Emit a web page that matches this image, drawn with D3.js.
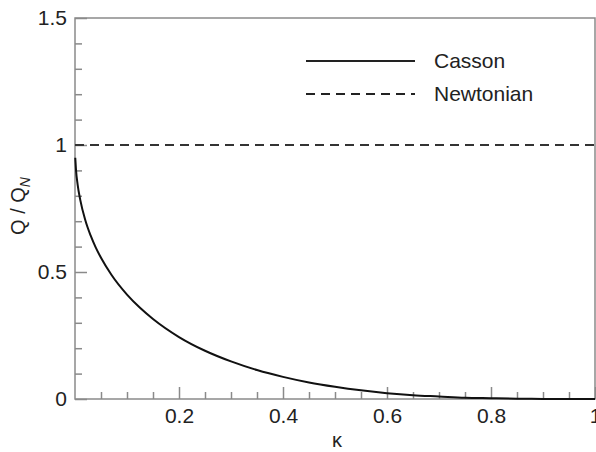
<!DOCTYPE html>
<html>
<head>
<meta charset="utf-8">
<script src="https://cdn.jsdelivr.net/npm/d3@7"></script>
<style>
  body { margin: 0; background: #fff; }
  svg { display: block; font-family: "Liberation Sans", Arial, sans-serif; }
</style>
</head>
<body>
<div id="chart"></div>
<script>
// ── Data ────────────────────────────────────────────────────────────────
const kappa = [0.0005, 0.002, 0.005, 0.01, 0.02, 0.03, 0.04, 0.05, 0.07, 0.1,
  0.125, 0.15, 0.2, 0.25, 0.3, 0.35, 0.4, 0.45, 0.5, 0.55, 0.6, 0.65, 0.7,
  0.75, 0.8, 0.85, 0.9, 0.95, 1.0];
const cassonQ = [0.950, 0.900, 0.845, 0.785, 0.703, 0.644, 0.596, 0.556, 0.489, 0.411,
  0.359, 0.315, 0.244, 0.190, 0.148, 0.114, 0.087, 0.065, 0.048, 0.034, 0.023, 0.015, 0.010,
  0.005, 0.003, 0.001, 0.0004, 0.0001, 0.0];
const newtonianQ = [1, 1];
const newtonianK = [0, 1];

const xTicks = [0.2, 0.4, 0.6, 0.8, 1];
const yTicks = [0, 0.5, 1, 1.5];
const legendItems = [
  { label: "Casson", dash: null },
  { label: "Newtonian", dash: "9,6" }
];

// ── Layout ──────────────────────────────────────────────────────────────
const W = 596, H = 452;
const margin = { top: 18, right: 1, bottom: 53, left: 75 };
const width = W - margin.left - margin.right;
const height = H - margin.top - margin.bottom;
const AXIS_C = "#8a8a8a";
const TEXT_C = "#222";

const svg = d3.select("#chart").append("svg")
  .attr("width", W).attr("height", H);
const g = svg.append("g").attr("transform", `translate(${margin.left},${margin.top})`);

const x = d3.scaleLinear().domain([0, 1]).range([0, width]);
const y = d3.scaleLinear().domain([0, 1.5]).range([height, 0]);

// Frame
g.append("rect")
  .attr("x", 0).attr("y", 0).attr("width", width).attr("height", height)
  .attr("fill", "none").attr("stroke", AXIS_C).attr("stroke-width", 1.5);

// Minor ticks (inward)
const xMinor = d3.range(0.05, 1, 0.05).filter(v => Math.abs(v / 0.2 - Math.round(v / 0.2)) > 1e-6);
const yMinor = d3.range(0.1, 1.5, 0.1).filter(v => Math.abs(v / 0.5 - Math.round(v / 0.5)) > 1e-6);

const xAxisG = g.append("g").attr("transform", `translate(0,${height})`);
xAxisG.call(d3.axisBottom(x).tickValues(xMinor).tickSize(-7).tickFormat(""));
const xMajorG = g.append("g").attr("transform", `translate(0,${height})`);
xMajorG.call(d3.axisBottom(x).tickValues(xTicks).tickSize(-12)
  .tickFormat(d => d3.format("")(d)));

const yAxisG = g.append("g");
yAxisG.call(d3.axisLeft(y).tickValues(yMinor).tickSize(-7).tickFormat(""));
const yMajorG = g.append("g");
yMajorG.call(d3.axisLeft(y).tickValues(yTicks).tickSize(-12)
  .tickFormat(d => d3.format("")(d)));

g.selectAll(".domain").remove();
g.selectAll(".tick line").attr("stroke", AXIS_C).attr("stroke-width", 1.5);
g.selectAll(".tick text").attr("fill", TEXT_C).style("font-size", "21px")
  .style("font-family", "'Liberation Sans', Arial, sans-serif");
yMajorG.selectAll(".tick text").attr("x", -8);
xMajorG.selectAll(".tick text").attr("y", 9);

// Newtonian line
const line = d3.line().x(d => x(d[0])).y(d => y(d[1]));
g.append("path")
  .datum(newtonianK.map((k, i) => [k, newtonianQ[i]]))
  .attr("fill", "none").attr("stroke", "#333").attr("stroke-width", 2)
  .attr("stroke-dasharray", "9,6").attr("d", line);

// Casson curve
const curve = d3.line().x(d => x(d[0])).y(d => y(d[1])).curve(d3.curveMonotoneX);
g.append("path")
  .datum(kappa.map((k, i) => [k, cassonQ[i]]))
  .attr("fill", "none").attr("stroke", "#111").attr("stroke-width", 2)
  .attr("d", curve);

// Legend
const leg = svg.append("g").attr("transform", "translate(306,61)");
legendItems.forEach((item, i) => {
  const row = leg.append("g").attr("transform", `translate(0,${i * 33})`);
  row.append("line").attr("x1", 0).attr("x2", 109).attr("y1", 0).attr("y2", 0)
    .attr("stroke", "#222").attr("stroke-width", 2)
    .attr("stroke-dasharray", item.dash);
  row.append("text").attr("x", 128).attr("y", 7)
    .attr("fill", TEXT_C).style("font-size", "21px").text(item.label);
});

// Axis labels
svg.append("text")
  .attr("x", 337).attr("y", 447)
  .attr("text-anchor", "middle").attr("fill", TEXT_C)
  .style("font-size", "20px").text("κ");

const yl = svg.append("text")
  .attr("transform", `translate(25,${206}) rotate(-90)`)
  .attr("text-anchor", "middle").attr("fill", TEXT_C)
  .style("font-size", "20px");
yl.append("tspan").text("Q / Q");
yl.append("tspan").attr("font-style", "italic").attr("dy", 5)
  .style("font-size", "14px").text("N");
</script>
</body>
</html>
